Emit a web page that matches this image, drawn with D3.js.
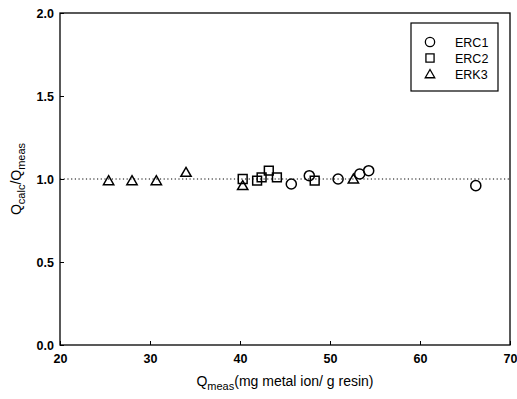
<!DOCTYPE html>
<html>
<head>
<meta charset="utf-8">
<script src="https://cdn.jsdelivr.net/npm/d3@7"></script>
<style>
  body { margin: 0; background: #fff; }
  text { font-family: "Liberation Sans", Arial, sans-serif; fill: #000; }
</style>
</head>
<body>
<svg id="chart" width="517" height="399"></svg>
<script>
"use strict";

// ERC1 (circles)
const erc1X = [45.7, 47.7, 50.9, 53.3, 54.3, 66.2];
const erc1Y = [0.97, 1.02, 1.0, 1.03, 1.05, 0.96];
// ERC2 (squares)
const erc2X = [40.3, 41.9, 42.4, 43.2, 44.1, 48.3];
const erc2Y = [1.0, 0.99, 1.01, 1.05, 1.01, 0.99];
// ERK3 (triangles)
const erk3X = [25.4, 28.0, 30.7, 34.0, 40.3, 52.6];
const erk3Y = [0.99, 0.99, 0.99, 1.04, 0.96, 1.0];

const xTicks = [20, 30, 40, 50, 60, 70];
const yTicks = [0.0, 0.5, 1.0, 1.5, 2.0];
const seriesNames = ["ERC1", "ERC2", "ERK3"];

const margin = { left: 60, top: 13, right: 7, bottom: 54 };
const width = 517, height = 399;

const svg = d3.select("#chart");
const x = d3.scaleLinear().domain([20, 70]).range([margin.left, width - margin.right]);
const y = d3.scaleLinear().domain([0, 2]).range([height - margin.bottom, margin.top]);

// frame
svg.append("rect")
  .attr("x", x(20)).attr("y", y(2))
  .attr("width", x(70) - x(20)).attr("height", y(0) - y(2))
  .attr("fill", "none").attr("stroke", "#000").attr("stroke-width", 1.3);

// reference line at 1.0
svg.append("line")
  .attr("x1", x(20)).attr("x2", x(70))
  .attr("y1", y(1)).attr("y2", y(1))
  .attr("stroke", "#000").attr("stroke-width", 1)
  .attr("stroke-dasharray", "1.2,2.5");

const xAxis = svg.append("g")
  .attr("transform", `translate(0,${y(0)})`)
  .call(d3.axisBottom(x).tickValues(xTicks).tickSizeInner(-4).tickSizeOuter(0).tickPadding(9));
const yAxis = svg.append("g")
  .attr("transform", `translate(${x(20)},0)`)
  .call(d3.axisLeft(y).tickValues(yTicks).tickFormat(d3.format(".1f")).tickSizeInner(-4).tickSizeOuter(0).tickPadding(6));

[xAxis, yAxis].forEach((g) => {
  g.select(".domain").remove();
  g.selectAll("text").attr("font-size", 12.5).attr("font-weight", "bold")
    .style("font-family", "Liberation Sans, Arial, sans-serif");
  g.selectAll(".tick line").attr("stroke", "#000");
});

// markers
const symbols = [d3.symbolCircle, d3.symbolSquare, d3.symbolTriangle];
const sizes = [80, 78, 46];
const seriesData = [
  d3.zip(erc1X, erc1Y),
  d3.zip(erc2X, erc2Y),
  d3.zip(erk3X, erk3Y)
];

seriesData.forEach((pts, i) => {
  const sym = d3.symbol().type(symbols[i]).size(sizes[i]);
  svg.append("g").selectAll("path")
    .data(pts)
    .join("path")
    .attr("d", sym)
    .attr("transform", (d) => `translate(${x(d[0])},${y(d[1]) + (i === 2 ? 1 : 0)})`)
    .attr("fill", "none")
    .attr("stroke", "#000")
    .attr("stroke-width", 1.5);
});

// legend
const legend = svg.append("g").attr("transform", "translate(411,23)");
legend.append("rect")
  .attr("width", 87).attr("height", 68)
  .attr("fill", "#fff").attr("stroke", "#000").attr("stroke-width", 1.2);
seriesNames.forEach((name, i) => {
  const row = legend.append("g").attr("transform", `translate(19,${19 + i * 16})`);
  row.append("path")
    .attr("d", d3.symbol().type(symbols[i]).size(sizes[i] * 0.85)())
    .attr("transform", i === 2 ? "translate(0,1)" : null)
    .attr("fill", "none").attr("stroke", "#000").attr("stroke-width", 1.3);
  row.append("text")
    .attr("x", 25).attr("y", 4.5)
    .attr("font-size", 12.5)
    .text(name);
});

// x label
const xl = svg.append("text")
  .attr("x", 285).attr("y", 386)
  .attr("text-anchor", "middle")
  .attr("font-size", 14);
xl.append("tspan").text("Q");
xl.append("tspan").attr("font-size", 11).attr("dy", 4).text("meas");
xl.append("tspan").attr("dy", -4).text("(mg metal ion/ g resin)");

// y label
const yl = svg.append("text")
  .attr("transform", `translate(21,${y(1)}) rotate(-90)`)
  .attr("text-anchor", "middle")
  .attr("font-size", 14);
yl.append("tspan").text("Q");
yl.append("tspan").attr("font-size", 11).attr("dy", 4).text("calc");
yl.append("tspan").attr("dy", -4).text("/Q");
yl.append("tspan").attr("font-size", 11).attr("dy", 4).text("meas");
</script>
</body>
</html>
